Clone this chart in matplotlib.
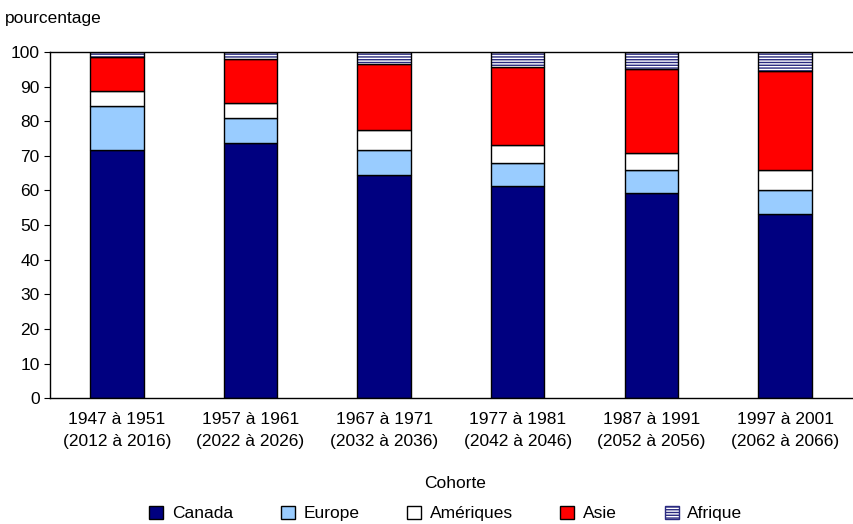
import matplotlib
matplotlib.use("Agg")
import matplotlib.pyplot as plt
import numpy as np
from matplotlib.patches import Patch

plt.rcParams['font.family'] = ['Liberation Sans Narrow', 'Liberation Sans', 'DejaVu Sans']
plt.rcParams['hatch.linewidth'] = 1.0

cohorts = ['1947 à 1951\n(2012 à 2016)', '1957 à 1961\n(2022 à 2026)', '1967 à 1971\n(2032 à 2036)',
           '1977 à 1981\n(2042 à 2046)', '1987 à 1991\n(2052 à 2056)', '1997 à 2001\n(2062 à 2066)']
canada = [71.7, 73.8, 64.4, 61.4, 59.2, 53.2]
europe = [12.7, 7.2, 7.3, 6.6, 6.6, 6.8]
ameriques = [4.2, 4.3, 5.7, 5.1, 5.1, 5.9]
asie = [9.9, 12.7, 19.0, 22.6, 24.3, 28.6]
afrique = [1.5, 2.0, 3.6, 4.3, 4.8, 5.5]

names = ['Canada', 'Europe', 'Amériques', 'Asie', 'Afrique']
series = [canada, europe, ameriques, asie, afrique]
colors = ['#000080', '#99ccff', '#ffffff', '#ff0000', '#ffffff']

fig = plt.figure(figsize=(8.54, 5.24), dpi=100)
ax = fig.add_axes([0.0585, 0.240, 0.939, 0.661])

x = np.arange(len(cohorts))
w = 0.4
bottom = np.zeros(len(cohorts))
for name, vals, c in zip(names, series, colors):
	vals = np.array(vals)
	if name == 'Afrique':
		ax.bar(x, vals, w, bottom=bottom, color='white', edgecolor='#2a2a80', hatch='------', linewidth=0)
		ax.bar(x, vals, w, bottom=bottom, color='none', edgecolor='black', linewidth=1)
	else:
		ax.bar(x, vals, w, bottom=bottom, color=c, edgecolor='black', linewidth=1)
	bottom += vals

ax.set_xlim(-0.5, 5.5)
ax.set_ylim(0, 100)
ax.set_yticks(np.arange(0, 101, 10))
ax.set_xticks(x)
ax.set_xticklabels(cohorts, fontsize=12.5, linespacing=1.6)
ax.tick_params(axis='x', length=0, pad=10)
ax.tick_params(axis='y', labelsize=12.5, direction='out', length=4)
ax.spines['right'].set_visible(False)
for s in ['left', 'bottom', 'top']:
	ax.spines[s].set_linewidth(1)

fig.text(0.006, 0.965, 'pourcentage', fontsize=12.5, ha='left', va='center')
fig.text(0.533, 0.078, 'Cohorte', fontsize=12.5, ha='center', va='center')

handles = []
for name, c in zip(names, colors):
	if name == 'Afrique':
		handles.append(Patch(facecolor='white', edgecolor='#2a2a80', hatch='------', label=name))
	else:
		handles.append(Patch(facecolor=c, edgecolor='black', label=name))
fig.legend(handles=handles, loc='center', bbox_to_anchor=(0.522, 0.02), ncol=5, frameon=False,
	fontsize=12.5, handlelength=0.8, handleheight=0.8, columnspacing=2.75, handletextpad=0.5)

fig.savefig('out.png', dpi=100)
